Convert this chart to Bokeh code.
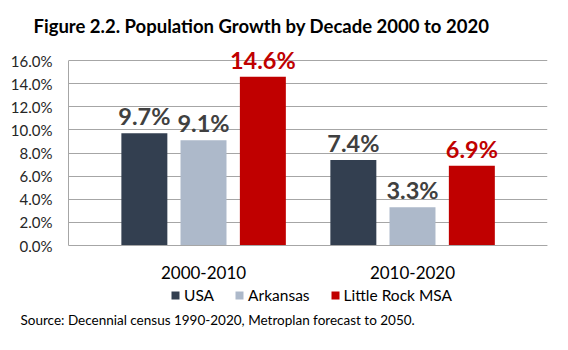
from bokeh.plotting import figure
from bokeh.models import (FactorRange, Range1d, ColumnDataSource, NumeralTickFormatter,
                          Legend, LegendItem, Title, FixedTicker)
from bokeh.core.properties import value
from bokeh.transform import dodge
from bokeh.embed import file_html
from bokeh.resources import INLINE

decades = ["2000-2010", "2010-2020"]
series = ["USA", "Arkansas", "Little Rock MSA"]
usa = [0.097, 0.074]
arkansas = [0.091, 0.033]
little_rock = [0.146, 0.069]
y_ticks = [0.0, 0.02, 0.04, 0.06, 0.08, 0.10, 0.12, 0.14, 0.16]
colors = ["#333f50", "#adb9ca", "#c00000"]
label_colors = ["#404040", "#404040", "#c00000"]
title_text = "Figure 2.2. Population Growth by Decade 2000 to 2020"
source_text = "Source: Decennial census 1990-2020, Metroplan forecast to 2050."

FONT = "Lato"

p = figure(width=568, height=350, output_backend="svg", toolbar_location=None,
           x_range=FactorRange(factors=decades, range_padding=0.146, range_padding_units="absolute"),
           y_range=Range1d(-0.0536, 0.1773),
           min_border_left=68, min_border_right=21, min_border_top=40, min_border_bottom=43)
p.outline_line_color = None
p.background_fill_color = "white"

data = dict(x=decades, usa=usa, arkansas=arkansas, lr=little_rock,
            usa_t=[f"{v*100:.1f}%" for v in usa],
            ark_t=[f"{v*100:.1f}%" for v in arkansas],
            lr_t=[f"{v*100:.1f}%" for v in little_rock])
src = ColumnDataSource(data)

offs = [-0.283, 0.0, 0.284]
cols = ["usa", "arkansas", "lr"]
tcols = ["usa_t", "ark_t", "lr_t"]
renderers = []
for i in range(3):
    r = p.vbar(x=dodge("x", offs[i], range=p.x_range), top=cols[i], width=0.22, source=src,
               fill_color=colors[i], line_color=None)
    renderers.append(r)
for i in range(3):
    p.text(x=dodge("x", offs[i], range=p.x_range), y=cols[i], text=tcols[i], source=src,
           text_align="center", text_baseline="bottom", y_offset=-3,
           text_font_size="23.5px", text_font_style="bold", text_color=label_colors[i],
           text_font=value(FONT))

# axes
p.yaxis.ticker = FixedTicker(ticks=y_ticks)
p.ygrid.ticker = FixedTicker(ticks=y_ticks)
p.yaxis.bounds = (0, 0.16)
p.ygrid.bounds = (0, 0.16)
p.yaxis.formatter = NumeralTickFormatter(format="0.0%")
p.yaxis.major_tick_line_color = None
p.yaxis.minor_tick_line_color = None
p.yaxis.axis_line_color = "#a6a6a6"
p.yaxis.major_label_text_font = FONT
p.yaxis.major_label_text_font_size = "15px"
p.yaxis.major_label_text_color = "#262626"
p.yaxis.major_label_standoff = 10

p.xaxis.fixed_location = 0
p.xaxis.major_tick_line_color = None
p.xaxis.axis_line_color = "#a6a6a6"
p.xaxis.major_label_text_font = FONT
p.xaxis.major_label_text_font_size = "17px"
p.xaxis.major_label_text_color = "#000000"
p.xaxis.major_label_standoff = 14

p.xgrid.grid_line_color = None
p.ygrid.grid_line_color = "#a6a6a6"

legend = Legend(items=[LegendItem(label=series[i], renderers=[renderers[i]]) for i in range(3)],
                orientation="horizontal", location=(102, 3),
                glyph_width=10, glyph_height=10, label_text_font=FONT,
                label_text_font_size="15.5px", label_text_color="#000000",
                spacing=20, padding=0, margin=0, border_line_color=None,
                label_standoff=4, background_fill_alpha=0)
p.add_layout(legend, "center")

p.add_layout(Title(text=source_text, align="left", offset=-48, standoff=4,
                   text_font=FONT, text_font_size="13.5px", text_font_style="normal",
                   text_color="#000000"), "below")

p.add_layout(Title(text=title_text, align="left", offset=-35, standoff=8,
                   text_font=FONT, text_font_size="18.5px", text_font_style="bold",
                   text_color="#000000"), "above")

open("out.html", "w").write(file_html(p, INLINE))
